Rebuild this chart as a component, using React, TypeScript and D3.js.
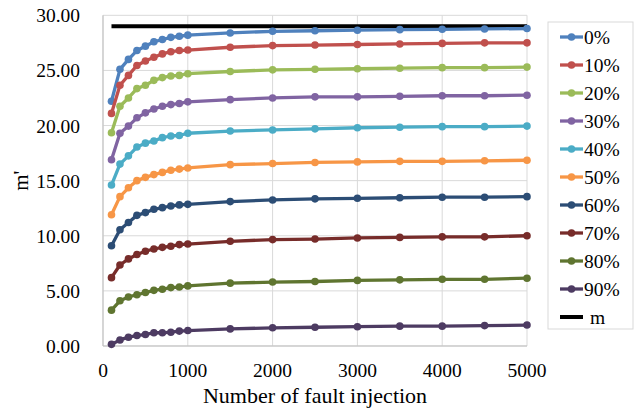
import React from "react";
import * as d3 from "d3";

const xValues = [100, 200, 300, 400, 500, 600, 700, 800, 900, 1000, 1500, 2000, 2500, 3000, 3500, 4000, 4500, 5000];
const seriesNames = ["0%", "10%", "20%", "30%", "40%", "50%", "60%", "70%", "80%", "90%"];
const s0 = [22.2, 25.1, 26.0, 26.8, 27.2, 27.6, 27.8, 28.0, 28.1, 28.2, 28.4, 28.55, 28.6, 28.65, 28.7, 28.73, 28.76, 28.8];
const s10 = [21.1, 23.65, 24.55, 25.45, 25.85, 26.2, 26.5, 26.7, 26.8, 26.85, 27.1, 27.25, 27.3, 27.35, 27.4, 27.45, 27.5, 27.5];
const s20 = [19.35, 21.75, 22.5, 23.35, 23.65, 24.1, 24.35, 24.5, 24.55, 24.7, 24.9, 25.05, 25.1, 25.15, 25.2, 25.25, 25.25, 25.3];
const s30 = [16.9, 19.3, 19.95, 20.7, 21.15, 21.5, 21.75, 21.9, 22.0, 22.15, 22.35, 22.5, 22.6, 22.6, 22.65, 22.7, 22.7, 22.75];
const s40 = [14.6, 16.5, 17.25, 18.05, 18.4, 18.6, 18.9, 19.05, 19.1, 19.3, 19.5, 19.6, 19.7, 19.8, 19.85, 19.9, 19.9, 19.95];
const s50 = [11.9, 13.55, 14.35, 15.0, 15.3, 15.55, 15.75, 15.95, 16.05, 16.15, 16.45, 16.55, 16.65, 16.7, 16.75, 16.75, 16.8, 16.85];
const s60 = [9.1, 10.55, 11.2, 11.85, 12.1, 12.4, 12.55, 12.7, 12.8, 12.85, 13.1, 13.25, 13.35, 13.4, 13.45, 13.5, 13.5, 13.55];
const s70 = [6.2, 7.35, 7.9, 8.3, 8.6, 8.8, 8.95, 9.05, 9.2, 9.25, 9.5, 9.65, 9.7, 9.8, 9.85, 9.9, 9.9, 10.0];
const s80 = [3.25, 4.1, 4.45, 4.65, 4.85, 5.05, 5.15, 5.3, 5.35, 5.45, 5.7, 5.8, 5.85, 5.95, 6.0, 6.05, 6.05, 6.15];
const s90 = [0.15, 0.55, 0.8, 0.95, 1.05, 1.2, 1.2, 1.25, 1.35, 1.4, 1.55, 1.65, 1.7, 1.75, 1.8, 1.8, 1.85, 1.9];
const mValue = 29.0;
const xTicks = [0, 1000, 2000, 3000, 4000, 5000];
const yTicks = [0, 5, 10, 15, 20, 25, 30];
const colors = ["#4F81BD", "#C0504D", "#9BBB59", "#8064A2", "#4BACC6", "#F79646", "#2C4D75", "#772C2A", "#5F7530", "#4D3B62"];
const allSeries = [s0, s10, s20, s30, s40, s50, s60, s70, s80, s90];

const W = 639;
const H = 411;
const left = 103;
const right = 527;
const top = 15.3;
const bottom = 346;
const font = "'Liberation Serif', 'Times New Roman', serif";

export default function App() {
  const x = d3.scaleLinear().domain([0, 5000]).range([left, right]);
  const y = d3.scaleLinear().domain([0, 30]).range([bottom, top]);
  const line = d3.line<[number, number]>().x((d) => x(d[0])).y((d) => y(d[1]));

  const legendX = 560;
  const legendY0 = 37;
  const legendStep = 28;

  return (
    <svg width={W} height={H} style={{ position: "absolute", left: 0, top: 0 }} fontFamily={font}>
      <rect x={0} y={0} width={W} height={H} fill="#fff" />
      {yTicks.map((t) => (
        <line key={"gy" + t} x1={left} x2={right} y1={y(t)} y2={y(t)} stroke="#D9D9D9" strokeWidth={1} />
      ))}
      {xTicks.map((t) => (
        <line key={"gx" + t} x1={x(t)} x2={x(t)} y1={top} y2={bottom} stroke="#D9D9D9" strokeWidth={1} />
      ))}
      <line x1={left} x2={left} y1={top} y2={bottom} stroke="#BFBFBF" strokeWidth={1} />
      <line x1={left} x2={right} y1={bottom} y2={bottom} stroke="#BFBFBF" strokeWidth={1} />
      {yTicks.map((t) => (
        <text key={"ty" + t} x={80} y={y(t) + 7} textAnchor="end" fontSize={19.5} fill="#000">
          {t.toFixed(2)}
        </text>
      ))}
      {xTicks.map((t) => (
        <text key={"tx" + t} x={x(t)} y={377} textAnchor="middle" fontSize={19.5} fill="#000">
          {t}
        </text>
      ))}
      <text x={315} y={403} textAnchor="middle" fontSize={22} fill="#000">
        Number of fault injection
      </text>
      <text transform={`translate(28, ${(top + bottom) / 2}) rotate(-90)`} textAnchor="middle" fontSize={21} fill="#000">
        m'
      </text>
      <path
        d={line([[xValues[0], mValue], [xValues[xValues.length - 1], mValue]]) || ""}
        stroke="#000"
        strokeWidth={4}
        fill="none"
      />
      {allSeries.map((s, i) => {
        const pts: [number, number][] = xValues.map((xv, j) => [xv, s[j]]);
        return (
          <g key={"s" + i}>
            <path d={line(pts) || ""} stroke={colors[i]} strokeWidth={3.3} fill="none" strokeLinejoin="round" />
            {pts.map((p, j) => (
              <circle key={j} cx={x(p[0])} cy={y(p[1])} r={3.8} fill={colors[i]} />
            ))}
          </g>
        );
      })}
      <rect x={548} y={22} width={85} height={307} fill="#fff" stroke="#D9D9D9" strokeWidth={1} />
      {seriesNames.map((n, i) => {
        const ly = legendY0 + i * legendStep;
        return (
          <g key={"l" + i}>
            <line x1={legendX} x2={583} y1={ly} y2={ly} stroke={colors[i]} strokeWidth={3.3} />
            <circle cx={571.5} cy={ly} r={3.8} fill={colors[i]} />
            <text x={584} y={ly + 7} fontSize={19.5} fill="#000">
              {n}
            </text>
          </g>
        );
      })}
      <line x1={legendX} x2={583} y1={legendY0 + 10 * legendStep} y2={legendY0 + 10 * legendStep} stroke="#000" strokeWidth={4} />
      <text x={590} y={legendY0 + 10 * legendStep + 7} fontSize={19.5} fill="#000">
        m
      </text>
    </svg>
  );
}
